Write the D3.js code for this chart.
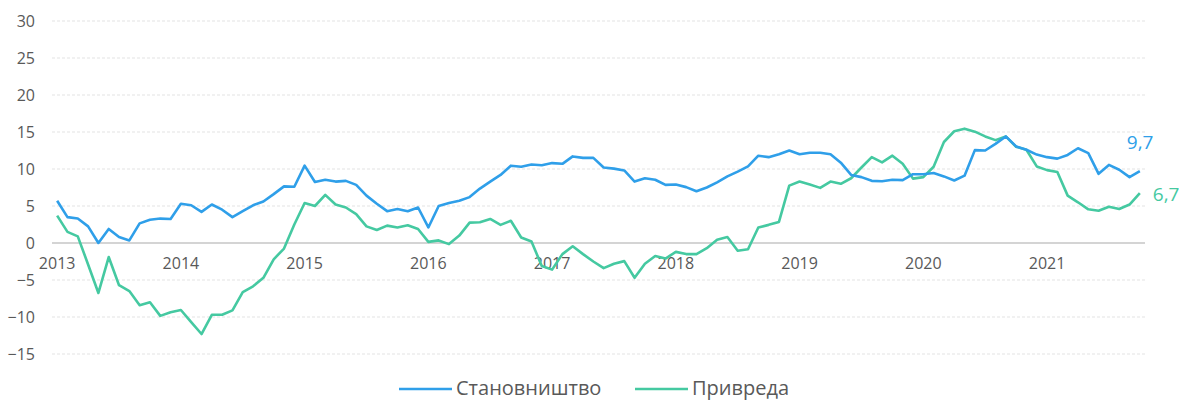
<!DOCTYPE html>
<html>
<head>
<meta charset="utf-8">
<script src="https://cdn.jsdelivr.net/npm/d3@7"></script>
<style>
  html, body { margin: 0; padding: 0; background: #fff; }
  svg { display: block; }
  text { font-family: "Open Sans", "Noto Sans", sans-serif; }
</style>
</head>
<body>
<svg id="chart" width="1179" height="400"></svg>
<script>
// ---- data ----
const years = [2013, 2014, 2015, 2016, 2017, 2018, 2019, 2020, 2021];
const months = []; // monthly categories Jan 2013 .. Oct 2021
years.forEach(y => { for (let m = 1; m <= 12; m++) { if (y === 2021 && m > 10) break; months.push(y + "-" + String(m).padStart(2, "0")); } });

const seriesNames = ["Становништво", "Привреда"];

const stanovnistvo = [
  5.7, 3.5, 3.3, 2.25, 0.0, 1.9, 0.8, 0.35, 2.65, 3.15, 3.3, 3.25,
  5.3, 5.1, 4.2, 5.2, 4.5, 3.5, 4.3, 5.1, 5.6, 6.6, 7.65, 7.6,
  10.45, 8.25, 8.55, 8.3, 8.4, 7.85, 6.4, 5.3, 4.3, 4.6, 4.3, 4.8,
  2.1, 5.0, 5.4, 5.7, 6.2, 7.35, 8.3, 9.2, 10.45, 10.3, 10.6, 10.5,
  10.8, 10.7, 11.7, 11.5, 11.5, 10.2, 10.05, 9.8, 8.3, 8.75, 8.55, 7.85,
  7.9, 7.55, 7.0, 7.5, 8.2, 9.0, 9.65, 10.35, 11.8, 11.6, 12.0, 12.5,
  12.0, 12.2, 12.2, 12.0, 10.85, 9.2, 8.9, 8.4, 8.35, 8.55, 8.5, 9.3,
  9.3, 9.45, 9.0, 8.45, 9.1, 12.55, 12.5, 13.4, 14.4, 13.05, 12.6, 11.95,
  11.6, 11.4, 11.9, 12.8, 12.15, 9.35, 10.55, 9.9, 8.9, 9.7
];

const privreda = [
  3.7, 1.5, 0.9, -2.9, -6.75, -1.9, -5.7, -6.5, -8.4, -8.0, -9.85, -9.35,
  -9.05, -10.7, -12.3, -9.7, -9.7, -9.1, -6.65, -5.85, -4.7, -2.2, -0.75, 2.5,
  5.4, 5.0, 6.5, 5.2, 4.8, 3.9, 2.25, 1.75, 2.35, 2.1, 2.4, 1.9,
  0.15, 0.35, -0.15, 1.0, 2.75, 2.8, 3.25, 2.45, 3.0, 0.75, 0.2, -3.1,
  -3.6, -1.5, -0.45, -1.5, -2.5, -3.4, -2.8, -2.45, -4.7, -2.8, -1.75, -2.1,
  -1.2, -1.5, -1.5, -0.7, 0.45, 0.8, -1.05, -0.85, 2.1, 2.45, 2.85, 7.75,
  8.3, 7.9, 7.45, 8.3, 8.0, 8.75, 10.2, 11.6, 10.9, 11.8, 10.7, 8.7,
  8.9, 10.3, 13.65, 15.1, 15.45, 15.05, 14.4, 13.9, 14.4, 13.0, 12.6, 10.35,
  9.85, 9.6, 6.4, 5.5, 4.55, 4.35, 4.9, 4.6, 5.2, 6.75
];

const yTicks = [30, 25, 20, 15, 10, 5, 0, -5, -10, -15];
const endLabels = ["9,7", "6,7"];

// ---- drawing ----
const colors = ["#2F9FE9", "#45C9A1"];
const svg = d3.select("#chart");
const plotLeft = 52, plotRight = 1145, plotTop = 21, plotBottom = 354;

const x = d3.scaleBand().domain(months).range([plotLeft, plotRight]).padding(0);
const y = d3.scaleLinear().domain([-15, 30]).range([plotBottom, plotTop]);
const cx = d => x(d) + x.bandwidth() / 2;

// gridlines
svg.append("g").selectAll("line").data(yTicks.filter(t => t !== 0)).join("line")
  .attr("x1", plotLeft).attr("x2", plotRight)
  .attr("y1", d => y(d)).attr("y2", d => y(d))
  .attr("stroke", "#e3e3e3").attr("stroke-width", 1).attr("stroke-dasharray", "3,2");

// y axis labels
const yAxis = d3.axisLeft(y).tickValues(yTicks).tickSize(0).tickPadding(0).tickFormat(d3.format("d"));
const yg = svg.append("g").attr("transform", `translate(35,0)`).call(yAxis);
yg.select(".domain").remove();
yg.selectAll("text").attr("font-size", 16).attr("fill", "#595959")
  .attr("font-family", "'Open Sans', sans-serif");

// zero line
svg.append("line").attr("x1", plotLeft).attr("x2", plotRight)
  .attr("y1", y(0)).attr("y2", y(0))
  .attr("stroke", "#d4d4d4").attr("stroke-width", 2);

// x axis labels (January of each year)
const xAxis = d3.axisBottom(x).tickValues(months.filter(m => m.endsWith("-01")))
  .tickSize(0).tickPadding(0).tickFormat(d => d.slice(0, 4));
const xg = svg.append("g").attr("transform", `translate(0,${y(0) + 15})`).call(xAxis);
xg.select(".domain").remove();
xg.selectAll("text").attr("font-size", 16).attr("fill", "#595959")
  .attr("font-family", "'Open Sans', sans-serif");

// lines
const line = d3.line().x((d, i) => cx(months[i])).y(d => y(d));
[privreda, stanovnistvo].forEach((s, k) => {
  const ci = k === 0 ? 1 : 0;
  svg.append("path").datum(s).attr("d", line)
    .attr("fill", "none").attr("stroke", colors[ci]).attr("stroke-width", 2.6)
    .attr("stroke-linejoin", "round");
});

// end labels
const lastM = months[months.length - 1];
svg.append("text").attr("x", cx(lastM) - 13).attr("y", y(stanovnistvo[stanovnistvo.length - 1]) - 22)
  .attr("font-size", 19).attr("fill", colors[0]).text(endLabels[0]);
svg.append("text").attr("x", cx(lastM) + 13).attr("y", y(privreda[privreda.length - 1]) + 3)
  .attr("font-size", 19).attr("fill", colors[1]).attr("dominant-baseline", "middle").text(endLabels[1]);

// legend
const legend = svg.append("g").attr("transform", "translate(0,389)");
const legX = [399, 635];
seriesNames.forEach((n, i) => {
  legend.append("line").attr("x1", legX[i]).attr("x2", legX[i] + 53).attr("y1", 0).attr("y2", 0)
    .attr("stroke", colors[i]).attr("stroke-width", 2.6);
  legend.append("text").attr("x", legX[i] + 57).attr("y", 1).attr("dominant-baseline", "middle")
    .attr("font-size", 20).attr("fill", "#595959").text(n);
});
</script>
</body>
</html>
